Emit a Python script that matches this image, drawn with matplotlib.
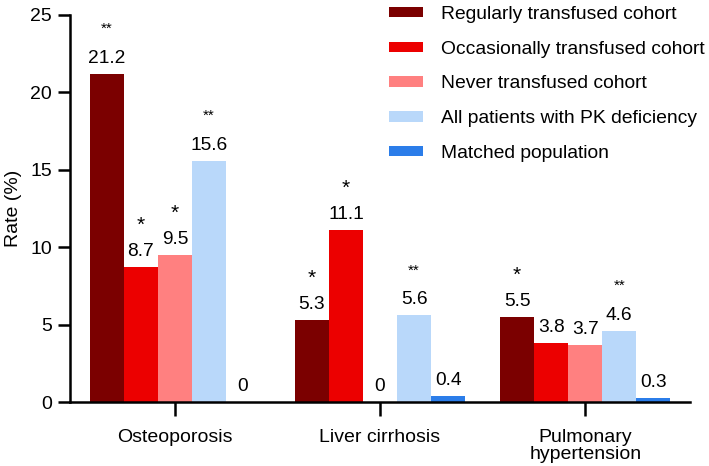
import numpy as np
import matplotlib.pyplot as plt

plt.rcParams['font.family'] = ['Liberation Sans', 'DejaVu Sans']

categories = ['Osteoporosis', 'Liver cirrhosis', 'Pulmonary\nhypertension']
series_names = ['Regularly transfused cohort', 'Occasionally transfused cohort',
                'Never transfused cohort', 'All patients with PK deficiency',
                'Matched population']
regular = [21.2, 5.3, 5.5]
occasional = [8.7, 11.1, 3.8]
never = [9.5, 0, 3.7]
all_pk = [15.6, 5.6, 4.6]
matched = [0, 0.4, 0.3]
stars_regular = ['**', '*', '*']
stars_occasional = ['*', '*', '']
stars_never = ['*', '', '']
stars_all = ['**', '**', '**']
stars_matched = ['', '', '']

colors = ['#7b0000', '#ec0000', '#ff8080', '#b9d8fa', '#2b7de9']

series = [regular, occasional, never, all_pk, matched]
stars = [stars_regular, stars_occasional, stars_never, stars_all, stars_matched]

fig = plt.figure(figsize=(7.09, 4.66), dpi=100)
ax = fig.add_axes([0.099, 0.137, 0.874, 0.831])

x = np.arange(len(categories))
w = 0.166
for i, (vals, col, name, st) in enumerate(zip(series, colors, series_names, stars)):
    pos = x + (i - 2) * w
    ax.bar(pos, vals, width=w, color=col, label=name, linewidth=0)
    for p, v, s in zip(pos, vals, st):
        ax.text(p, v + 0.45, f'{v:g}', ha='center', va='bottom', fontsize=13.8)
        if s == '*':
            ax.text(p, v + 2.1, s, ha='center', va='bottom', fontsize=15)
        elif s == '**':
            ax.text(p, v + 2.45, s, ha='center', va='bottom', fontsize=11)

ax.set_xlim(-0.51, 2.51)
ax.set_ylim(0, 25)
ax.set_yticks([0, 5, 10, 15, 20, 25])
ax.set_xticks(x)
ax.set_xticklabels(categories, fontsize=14, linespacing=1.0)
ax.tick_params(axis='y', labelsize=14, width=1.8, length=9, pad=4)
ax.tick_params(axis='x', width=1.8, length=10, pad=9)
ax.set_ylabel('Rate (%)', fontsize=14)
ax.yaxis.set_label_coords(-0.077, 0.5)
for side in ['top', 'right']:
    ax.spines[side].set_visible(False)
for side in ['left', 'bottom']:
    ax.spines[side].set_linewidth(1.8)

ax.legend(loc='upper right', bbox_to_anchor=(1.052, 1.068), frameon=False,
          fontsize=13.9, handlelength=1.75, handleheight=0.45, handletextpad=0.95,
          labelspacing=0.92)

fig.savefig('out.png', dpi=100)
